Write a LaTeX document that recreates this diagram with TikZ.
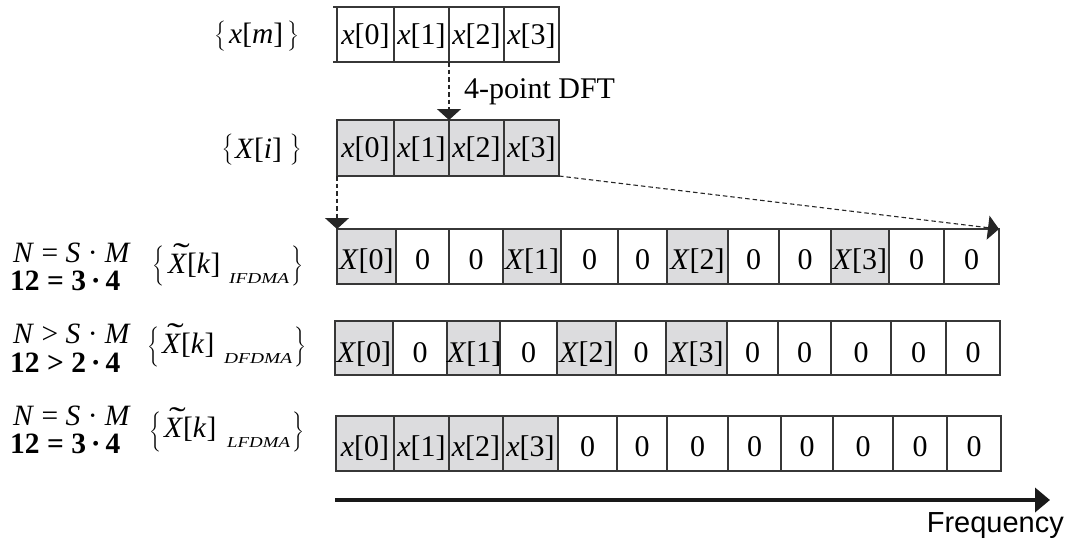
\documentclass[tikz,border=0pt]{standalone}
\usepackage{graphicx}
\usepackage{fontspec}
\setmainfont{Liberation Serif}
\newfontfamily\freqfont{Liberation Sans}
\usetikzlibrary{arrows.meta}
\definecolor{cellgray}{RGB}{220,220,222}
\definecolor{linec}{RGB}{55,55,55}
\newcommand\xv[1]{\textit{x}[#1]}
\newcommand\Xv[1]{\textit{X}[#1]}
\newcommand\Xt{\makebox[0pt][l]{\hspace{5pt}\raisebox{7.5pt}{\scalebox{1.7}[1.1]{\char"02DC}}}\textit{X}[\textit{k}]}
\newcommand\cellf{\fontsize{30}{34}\selectfont}
\newcommand\labf{\fontsize{29.5}{32}\selectfont}
\newcommand\bracel[1]{\resizebox*{12pt}{#1}{$\Bigg\{$}}
\newcommand\bracer[1]{\resizebox*{12pt}{#1}{$\Bigg\}$}}
\newcommand\mkrow[4]{\foreach \nm/\a/\b/\fc/\tx in {#4}{%
  \node[cell,fill=\fc,text height=#3,minimum width={(\b-\a)*1pt},minimum height={(#2-#1)*1pt}] (\nm) at (\a,#1) {\tx};}}
\begin{document}
\begin{tikzpicture}[x=1pt,y=-1pt,
  cell/.style={draw=linec,line width=1.1pt,inner sep=0pt,outer sep=0pt,anchor=north west,text depth=4pt,font=\cellf},
  dasharr/.style={draw=black!85,line width=1.1pt,dash pattern=on 4.5pt off 3pt,-{Triangle[width=24pt,length=11pt]}},
  freqarr/.style={draw=black!90,line width=4.5pt,-{Triangle[width=24pt,length=15pt]}},
  lab/.style={inner sep=0pt,font=\labf,anchor=base west},
  brc/.style={inner sep=0pt,anchor=center},
  thick sep/.style={draw=linec,line width=2.2pt}]
\useasboundingbox (0,0) rectangle (1069,542);

% rows of cells
\mkrow{7}{62}{24pt}{t1/337/394/white/{\xv{0}}, t2/394/449/white/{\xv{1}}, t3/449/504/white/{\xv{2}}, t4/504/559/white/{\xv{3}}}
\draw[draw=linec,line width=1.1pt] (t1.north west) -- ++(-4,0) (t1.south west) -- ++(-4,0);

\mkrow{120}{176}{23pt}{f1/337/394/cellgray/{\xv{0}}, f2/394/449/cellgray/{\xv{1}}, f3/449/504/cellgray/{\xv{2}}, f4/504/559/cellgray/{\xv{3}}}

\mkrow{229}{284}{29pt}{i1/337/396/cellgray/{\Xv{0}}, i2/396/449/white/0, i3/449/503/white/0, i4/503/561/cellgray/{\Xv{1}}, i5/561/618/white/0, i6/618/667/white/0, i7/667/728/cellgray/{\Xv{2}}, i8/728/779/white/0, i9/779/831/white/0, i10/831/889/cellgray/{\Xv{3}}, i11/889/944/white/0, i12/944/999/white/0}

\mkrow{321}{375}{32pt}{d1/335/393/cellgray/{\Xv{0}}, d2/393/447/white/0, d3/447/500/cellgray/{\Xv{1}}, d4/500/557/white/0, d5/557/616/cellgray/{\Xv{2}}, d6/616/666/white/0, d7/666/727/cellgray/{\Xv{3}}, d8/727/778/white/0, d9/778/831/white/0, d10/831/891/white/0, d11/891/946/white/0, d12/946/1000/white/0}
\draw[thick sep] (d5.north west) -- (d5.south west) (d10.north west) -- (d10.south west);

\mkrow{416}{471}{29pt}{l1/336/394/cellgray/{\xv{0}}, l2/394/449/cellgray/{\xv{1}}, l3/449/503/cellgray/{\xv{2}}, l4/503/558/cellgray/{\xv{3}}, l5/558/617/white/0, l6/617/667/white/0, l7/667/728/white/0, l8/728/781/white/0, l9/781/833/white/0, l10/833/893/white/0, l11/893/947/white/0, l12/947/1001/white/0}
\draw[thick sep] (l5.north west) -- (l5.south west) (l11.north west) -- (l11.south west);

% dashed arrows
\draw[dasharr] (t3.south west) -- (f3.north west);
\draw[dasharr] (f1.south west) -- (i1.north west);
\draw[dasharr] (f4.south east) -- (i12.north east);
\node[lab,font=\cellf] (dft) at (464,98) {4-point DFT};

% top labels
\node[brc] (lbm) at (220,36) {\bracel{30pt}};
\node[lab] (xm) at (229,43) {\textit{x}[\textit{m}]};
\node[brc] (rbm) at (293,36) {\bracer{30pt}};
\node[brc] (lbi) at (227.5,150) {\bracel{31pt}};
\node[lab] (xi) at (235,158) {\textit{X}[\textit{i}]};
\node[brc] (rbi) at (295.5,150) {\bracer{31pt}};

% left formulas
\node[lab] (n1) at (13,262) {\textit{N} = \textit{S} · \textit{M}};
\node[lab] (m1) at (10,290) {\textbf{12 = 3\,·\,4}};
\node[lab] (n2) at (13,343) {\textit{N} > \textit{S} · \textit{M}};
\node[lab] (m2) at (10,372) {\textbf{12 > 2\,·\,4}};
\node[lab] (n3) at (13,425) {\textit{N} = \textit{S} · \textit{M}};
\node[lab] (m3) at (10,453) {\textbf{12 = 3\,·\,4}};

% brace groups
\node[brc] (lb1) at (158,266) {\bracel{40pt}};
\node[lab] (xt1) at (168,273) {\Xt};
\node[lab] (s1) at (229,283) {\resizebox{60pt}{10pt}{\textit{IFDMA}}};
\node[brc] (rb1) at (297,266) {\bracer{40pt}};

\node[brc] (lb2) at (153,347) {\bracel{40pt}};
\node[lab] (xt2) at (162,353) {\Xt};
\node[lab] (s2) at (224,363) {\resizebox{68pt}{10pt}{\textit{DFDMA}}};
\node[brc] (rb2) at (300,347) {\bracer{40pt}};

\node[brc] (lb3) at (155,432) {\bracel{40pt}};
\node[lab] (xt3) at (164,437) {\Xt};
\node[lab] (s3) at (227,447) {\resizebox{63pt}{10pt}{\textit{LFDMA}}};
\node[brc] (rb3) at (298,432) {\bracer{40pt}};

% frequency axis
\coordinate (fs) at (335,500);
\coordinate (fe) at (1050,500);
\draw[freqarr] (fs) -- (fe);
\node[anchor=base east,inner sep=0pt,font=\freqfont\fontsize{29}{32}\selectfont] (freq) at (1064,532) {Frequency};
\end{tikzpicture}
\end{document}
